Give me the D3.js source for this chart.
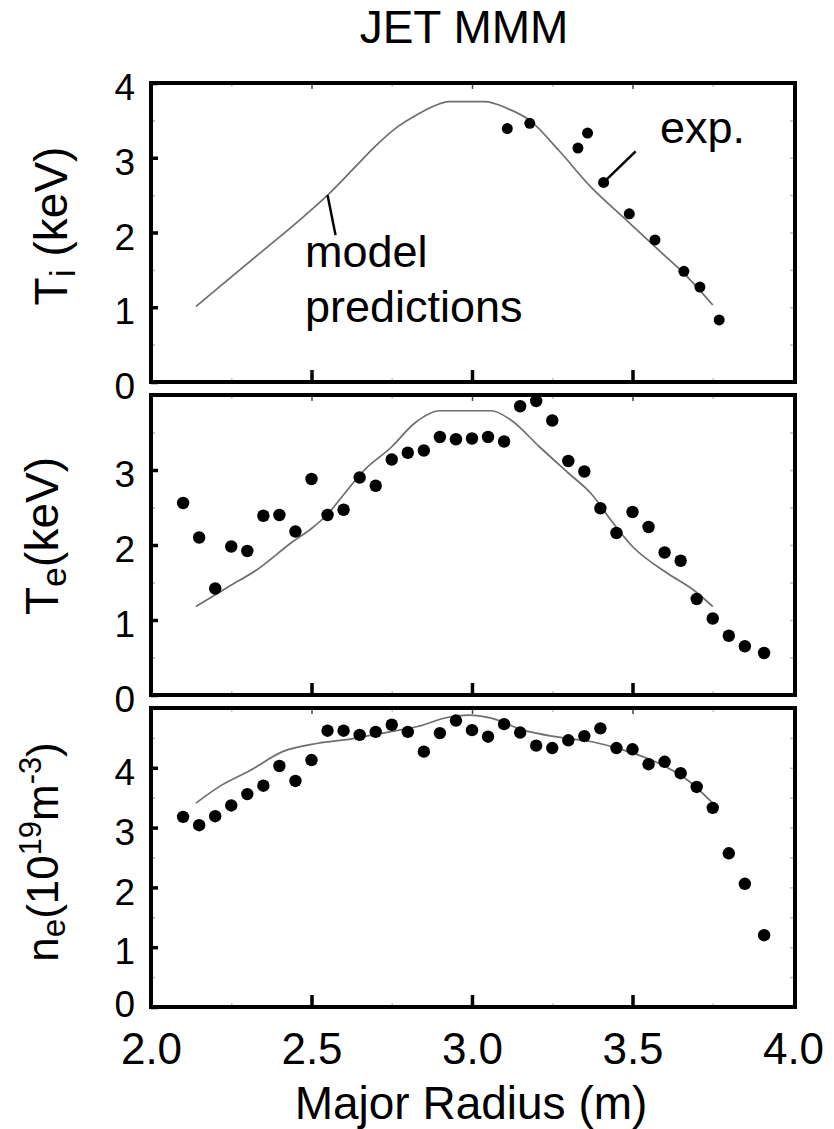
<!DOCTYPE html>
<html>
<head>
<meta charset="utf-8">
<script src="https://cdn.jsdelivr.net/npm/d3@7"></script>
<style>
  html, body { margin: 0; padding: 0; background: #fff; }
  svg { display: block; }
  text { font-family: "Liberation Sans", Arial, Helvetica, sans-serif; fill: #000; }
</style>
</head>
<body>
<svg id="chart" width="834" height="1129"></svg>
<script>
// ---- Ion temperature T_i (keV) ----
const tiModelR = [2.14, 2.33, 2.48, 2.55, 2.63, 2.70, 2.77, 2.83, 2.87, 2.93, 3.04, 3.11, 3.18, 3.27, 3.37, 3.48, 3.58, 3.67, 3.75];
const tiModel  = [1.01, 1.69, 2.23, 2.50, 2.85, 3.16, 3.42, 3.58, 3.67, 3.75, 3.75, 3.66, 3.50, 3.10, 2.61, 2.17, 1.77, 1.41, 1.03];
const tiExpR   = [3.11, 3.18, 3.33, 3.36, 3.41, 3.49, 3.57, 3.66, 3.71, 3.77];
const tiExp    = [3.39, 3.46, 3.13, 3.33, 2.67, 2.25, 1.90, 1.48, 1.27, 0.83];

// ---- Electron temperature T_e (keV) ----
const teModelR = [2.14, 2.24, 2.33, 2.44, 2.50, 2.55, 2.60, 2.66, 2.75, 2.82, 2.90, 3.06, 3.12, 3.21, 3.30, 3.37, 3.44, 3.50, 3.61, 3.69, 3.75];
const teModel  = [1.18, 1.44, 1.67, 2.04, 2.22, 2.41, 2.67, 2.98, 3.31, 3.62, 3.79, 3.79, 3.67, 3.31, 2.96, 2.69, 2.29, 1.98, 1.62, 1.40, 1.18];

// measurement channel radii shared by the T_e and n_e profiles (m)
const profileR = [2.10, 2.15, 2.20, 2.25, 2.30, 2.35, 2.40, 2.45, 2.50, 2.55, 2.60, 2.65, 2.70,
                  2.75, 2.80, 2.85, 2.90, 2.95, 3.00, 3.05, 3.10, 3.15, 3.20, 3.25, 3.30, 3.35,
                  3.40, 3.45, 3.50, 3.55, 3.60, 3.65, 3.70, 3.75, 3.80, 3.85, 3.91];
const teExp    = [2.56, 2.10, 1.42, 1.98, 1.92, 2.39, 2.40, 2.18, 2.88, 2.40, 2.47, 2.90, 2.79,
                  3.14, 3.23, 3.26, 3.44, 3.41, 3.42, 3.44, 3.38, 3.85, 3.92, 3.66, 3.12, 2.98,
                  2.49, 2.16, 2.44, 2.24, 1.90, 1.79, 1.28, 1.02, 0.79, 0.65, 0.56];

// ---- Electron density n_e (10^19 m^-3) ----
const neModelR = [2.14, 2.22, 2.31, 2.41, 2.52, 2.62, 2.72, 2.83, 2.93, 2.99, 3.06, 3.16, 3.26, 3.37, 3.47, 3.58, 3.67, 3.75];
const neModel  = [3.41, 3.71, 3.96, 4.27, 4.41, 4.48, 4.58, 4.69, 4.85, 4.88, 4.83, 4.63, 4.52, 4.44, 4.30, 4.08, 3.80, 3.41];
const neExp    = [3.18, 3.04, 3.19, 3.37, 3.56, 3.70, 4.03, 3.78, 4.13, 4.62, 4.62, 4.55, 4.60,
                  4.72, 4.60, 4.27, 4.58, 4.79, 4.63, 4.52, 4.73, 4.59, 4.37, 4.33, 4.46, 4.53,
                  4.66, 4.33, 4.31, 4.06, 4.10, 3.91, 3.68, 3.33, 2.57, 2.06, 1.20];

// ---- axis ticks ----
const xTicks      = [2.0, 2.5, 3.0, 3.5, 4.0];
const xTickLabels = ["2.0", "2.5", "3.0", "3.5", "4.0"];
const xMinorTicks = [2.25, 2.75, 3.25, 3.75];
const tiTicks = [0, 1, 2, 3, 4];
const teTicks = [0, 1, 2, 3];
const neTicks = [0, 1, 2, 3, 4];

const FONT = '"Liberation Sans", Arial, Helvetica, sans-serif';
const svg = d3.select("#chart");

const frameLeft = 151, frameRight = 795;
const x = d3.scaleLinear().domain([2, 4]).range([151, 793]);

const zip = (a, b) => a.map((v, i) => [v, b[i]]);

const panels = [
  { top: 83,  bottom: 382,  ymax: 4, ticks: tiTicks, model: zip(tiModelR, tiModel), exp: zip(tiExpR, tiExp), r: 5.5, last: false },
  { top: 395, bottom: 695,  ymax: 4, ticks: teTicks, model: zip(teModelR, teModel), exp: zip(profileR, teExp), r: 6.2, last: false },
  { top: 708, bottom: 1007, ymax: 5, ticks: neTicks, model: zip(neModelR, neModel), exp: zip(profileR, neExp), r: 6.2, last: true }
];

function styleAxis(g) {
  g.attr("font-family", FONT);
  g.select(".domain").remove();
}

panels.forEach(p => {
  const y = d3.scaleLinear().domain([0, p.ymax]).range([p.bottom, p.top]);
  p.y = y;
  const g = svg.append("g");

  // faint minor ticks on every side
  const yMinor = d3.range(0.5, p.ymax, 1);
  const yRight = d3.range(0.5, p.ymax, 0.5);
  g.append("g").attr("transform", `translate(${frameLeft},0)`)
    .call(d3.axisLeft(y).tickValues(yMinor).tickSize(-4).tickFormat(""))
    .call(styleAxis).selectAll("line").attr("stroke", "#b5b5b5").attr("stroke-width", 1.5);
  g.append("g").attr("transform", `translate(${frameRight},0)`)
    .call(d3.axisRight(y).tickValues(yRight).tickSize(-5).tickFormat(""))
    .call(styleAxis).selectAll("line").attr("stroke", "#bdbdbd").attr("stroke-width", 1.5);
  g.append("g").attr("transform", `translate(0,${p.top})`)
    .call(d3.axisTop(x).tickValues(xMinorTicks).tickSize(-4).tickFormat(""))
    .call(styleAxis).selectAll("line").attr("stroke", "#c4c4c4").attr("stroke-width", 1.5);
  g.append("g").attr("transform", `translate(0,${p.bottom})`)
    .call(d3.axisBottom(x).tickValues(xMinorTicks).tickSize(-4).tickFormat(""))
    .call(styleAxis).selectAll("line").attr("stroke", "#c4c4c4").attr("stroke-width", 1.5);
  // thin major ticks along the top edge
  g.append("g").attr("transform", `translate(0,${p.top})`)
    .call(d3.axisTop(x).tickValues([2.5, 3.0, 3.5]).tickSize(-6).tickFormat(""))
    .call(styleAxis).selectAll("line").attr("stroke", "#444").attr("stroke-width", 1.5);

  // left axis with labels
  const yAxis = g.append("g").attr("transform", `translate(${frameLeft},0)`)
    .call(d3.axisLeft(y).tickValues(p.ticks).tickSize(-7).tickPadding(16).tickFormat(d3.format("d")))
    .call(styleAxis);
  yAxis.selectAll("line").attr("stroke", "#000").attr("stroke-width", 3.5);
  yAxis.selectAll("text").attr("font-size", 37).attr("fill", "#000")
    .attr("dy", d => (p.last && d === 0) ? "0.25em" : "0.45em");

  // bottom axis: heavy inward ticks, labels only under the lowest panel
  const xAxis = g.append("g").attr("transform", `translate(0,${p.bottom})`)
    .call(d3.axisBottom(x).tickValues(p.last ? xTicks : [2.5, 3.0, 3.5]).tickSize(-12).tickPadding(26)
      .tickFormat((d, i) => p.last ? xTickLabels[i] : ""))
    .call(styleAxis);
  xAxis.selectAll("line").attr("stroke", "#000").attr("stroke-width", 3.5)
    .filter(d => d === 2.0 || d === 4.0).remove();
  xAxis.selectAll("text").attr("font-size", 44).attr("fill", "#000");

  // model prediction curve
  g.append("path")
    .datum(p.model)
    .attr("fill", "none")
    .attr("stroke", "#6e6e6e")
    .attr("stroke-width", 1.7)
    .attr("d", d3.line().x(d => x(d[0])).y(d => y(d[1])).curve(d3.curveMonotoneX));

  // experimental points
  g.append("g").selectAll("circle")
    .data(p.exp)
    .join("circle")
    .attr("cx", d => x(d[0]))
    .attr("cy", d => y(d[1]))
    .attr("r", p.r)
    .attr("fill", "#000");

  // panel frame
  g.append("rect")
    .attr("x", frameLeft).attr("y", p.top)
    .attr("width", frameRight - frameLeft).attr("height", p.bottom - p.top)
    .attr("fill", "none").attr("stroke", "#000").attr("stroke-width", 4);
});

// ---- title and axis titles ----
svg.append("text").attr("x", 464).attr("y", 43).attr("text-anchor", "middle")
  .attr("font-size", 46).text("JET MMM");

svg.append("text").attr("x", 471).attr("y", 1119).attr("text-anchor", "middle")
  .attr("font-size", 46).text("Major Radius (m)");

function yTitle(px, py, size, parts) {
  const t = svg.append("text")
    .attr("transform", `translate(${px},${py}) rotate(-90)`)
    .attr("text-anchor", "middle")
    .attr("font-size", size);
  parts.forEach(([str, shift, scale]) => {
    t.append("tspan")
      .attr("baseline-shift", shift)
      .attr("font-size", scale ? size * scale : null)
      .text(str);
  });
}
yTitle(67, 226, 46, [["T", null], ["i", "-22%", 0.78], [" (keV)", null]]);
yTitle(58, 536, 46, [["T", null], ["e", "-22%", 0.78], ["(keV)", null]]);
yTitle(58, 852, 44, [["n", null], ["e", "-22%", 0.75], ["(10", null], ["19", "55%", 0.7], ["m", null], ["-3", "55%", 0.7], [")", null]]);

// ---- annotations ----
const ti = panels[0];
svg.append("line")
  .attr("x1", x(tiModelR[3])).attr("y1", ti.y(tiModel[3]))
  .attr("x2", x(tiModelR[3]) + 8).attr("y2", ti.y(tiModel[3]) + 40)
  .attr("stroke", "#000").attr("stroke-width", 2.5);
svg.append("text").attr("x", 305).attr("y", 267).attr("font-size", 45).text("model");
svg.append("text").attr("x", 305).attr("y", 322).attr("font-size", 45).text("predictions");

svg.append("line")
  .attr("x1", x(tiExpR[4])).attr("y1", ti.y(tiExp[4]))
  .attr("x2", x(tiExpR[4]) + 32).attr("y2", ti.y(tiExp[4]) - 31)
  .attr("stroke", "#000").attr("stroke-width", 2.5);
svg.append("text").attr("x", 660).attr("y", 143).attr("font-size", 45).text("exp.");
</script>
</body>
</html>
